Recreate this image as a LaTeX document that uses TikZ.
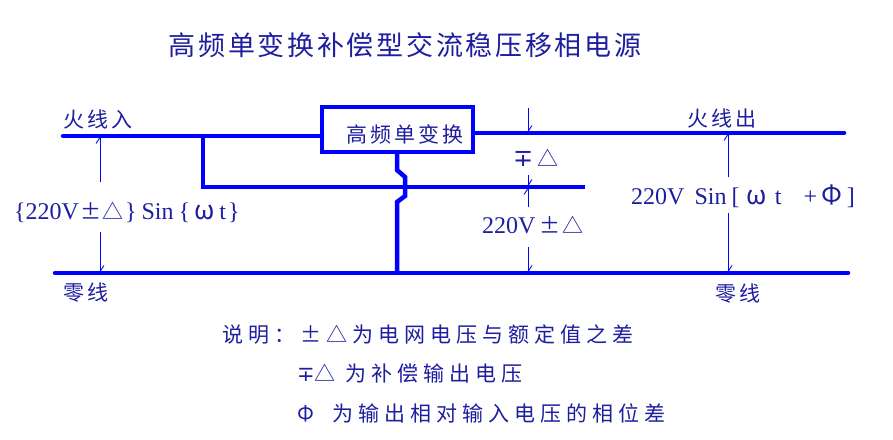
\documentclass[tikz,border=0pt]{standalone}
\usepackage{fontspec}
\setmainfont{Liberation Serif}
\newfontfamily\cjk[LetterSpace=15]{Noto Sans CJK SC}
\newfontfamily\cjkw[LetterSpace=24]{Noto Sans CJK SC}
\newfontfamily\cjkt[LetterSpace=10]{Noto Sans CJK SC}
\newfontfamily\lat{Liberation Serif}
\newfontfamily\sym{DejaVu Sans}
\usetikzlibrary{arrows.meta}
\definecolor{wire}{RGB}{0,0,255}
\definecolor{txt}{RGB}{30,30,160}
\newcommand{\lt}[1]{{\fontsize{24}{24}\lat #1}}
\newcommand{\bg}[1]{{\fontsize{26}{26}\selectfont #1}}
\tikzset{
  wireline/.style={draw=wire,line width=4.5pt,line cap=round,line join=miter},
  meas/.style={draw=wire,line width=0.9pt,-{Straight Barb[harpoon,length=6pt,width=8pt]}},
  lbl/.style={text=txt,inner sep=0pt,font=\fontsize{21}{21}\cjk},
  note/.style={text=txt,inner sep=0pt,anchor=west,font=\fontsize{21}{21}\cjkw},
  titl/.style={text=txt,inner sep=0pt,font=\fontsize{27}{27}\cjkt},
}
\begin{document}
\begin{tikzpicture}[x=1pt,y=-1pt]
\useasboundingbox[fill=white] (0,0) rectangle (893,439);
% title
\node[titl] (title) at (405,45) {高频单变换补偿型交流稳压移相电源};
% coordinates of wires
\coordinate (inL) at (63,136);
\coordinate (boxL) at (322,136);
\coordinate (boxR) at (473,133);
\coordinate (outR) at (844,133);
\coordinate (tap) at (203,136);
\coordinate (tapD) at (203,187);
\coordinate (midR) at (585,187);
\coordinate (nL) at (55,273);
\coordinate (nR) at (848,273);
\coordinate (vt) at (397,152);
\coordinate (vb) at (397,273);
% transformer box
\node[draw=wire,line width=4.5pt,minimum width=151pt,minimum height=45pt,inner sep=0pt] (box) at (397.5,129.5) {};
\node[lbl] (boxtxt) at (405,134) {高频单变换};
% wires
\draw[wireline] (inL) -- (boxL);
\draw[wireline] (boxR) -- (outR);
\draw[wireline,line cap=butt] (tap) -- (tapD) -- (midR);
\draw[wireline] (nL) -- (nR);
\draw[wireline,line cap=butt] (vt) -- (397,170) -- (405,177) -- (405,196) -- (397,202) -- (vb);
% wire labels
\node[lbl,anchor=west] (firein) at (63,120) {火线入};
\node[lbl,anchor=west] (zeroL) at (63,293) {零线};
\node[lbl,anchor=west] (fireout) at (687,119) {火线出};
\node[lbl,anchor=west] (zeroR) at (715,294) {零线};
% measurement labels
\node[lbl,anchor=west] (m1) at (14,212) {\lt{\{220V}\hspace{1pt}±\hspace{1pt}△\hspace{2pt}\lt{\}}\hspace{5pt}\lt{Sin}\hspace{5pt}\lt{\{}\hspace{4pt}\bg{ω}\hspace{5pt}\lt{t}\hspace{2pt}\lt{\}}};
\node[lbl,anchor=west] (m2) at (513,158) {{\fontsize{24}{24}\sym ∓}\hspace{4pt}△};
\node[lbl,anchor=west] (m3) at (482,225) {\lt{220V}\hspace{4pt}±\hspace{2pt}△};
\node[lbl,anchor=west] (m4) at (631,196) {\lt{220V}\hspace{10pt}\lt{Sin}\hspace{5pt}\lt{[}\hspace{7pt}\bg{ω}\hspace{8pt}\lt{t}\hspace{22pt}\lt{+}\hspace{4pt}\bg{Φ}\hspace{5pt}\lt{]}};
% measurement arrows
\coordinate (a1t) at (100,136);
\coordinate (a1b) at (100,273);
\draw[meas] (100,182) -- (a1t);
\draw[meas] (100,232) -- (a1b);
\coordinate (a2t) at (528,133);
\coordinate (a2m) at (528,187);
\coordinate (a2b) at (528,273);
\draw[meas] (528,108) -- (a2t);
\draw[meas] (528,175) -- (a2m);
\draw[meas] (528,207) -- (a2m);
\draw[meas] (528,247) -- (a2b);
\coordinate (a3t) at (728,133);
\coordinate (a3b) at (728,273);
\draw[meas] (728,177) -- (a3t);
\draw[meas] (728,213) -- (a3b);
% notes
\node[note] (n1) at (222,335) {说明：±△为电网电压与额定值之差};
\node[note] (n2) at (297,373) {{\sym ∓}△ 为补偿输出电压};
\node[note] (n3) at (297,413) {Φ\hspace{18pt}为输出相对输入电压的相位差};
\end{tikzpicture}
\end{document}
